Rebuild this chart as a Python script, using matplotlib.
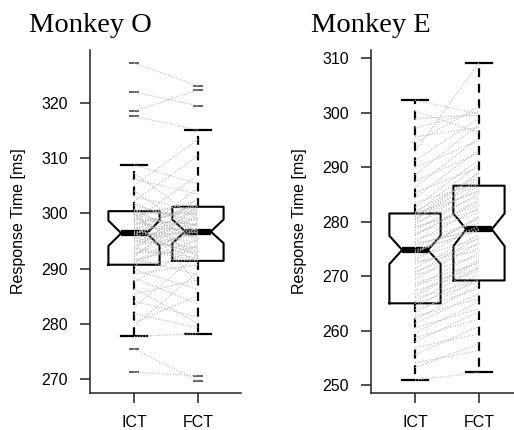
import matplotlib.pyplot as plt

plt.rcParams['font.family'] = ['Liberation Sans', 'DejaVu Sans']

groups = ['ICT', 'FCT']

# Monkey O: paired response times (ms)
o_ict = [271.2, 275.4, 277.7, 279.6, 280.2, 281.8, 283.0, 284.1, 285.3, 286.4,
         287.5, 288.3, 289.0, 289.8, 290.4, 290.9, 291.3, 291.8, 292.4, 292.9,
         293.3, 293.8, 294.2, 294.6, 295.0, 295.4, 295.8, 296.1, 296.3, 296.5,
         296.8, 297.1, 297.4, 297.7, 298.0, 298.3, 298.6, 298.9, 299.2, 299.5,
         299.8, 300.1, 300.3, 300.5, 300.8, 301.4, 302.2, 303.0, 304.1, 305.0,
         306.2, 307.3, 308.8, 317.6, 318.5, 322.0, 327.2,
         291.0, 291.6, 292.1, 292.7, 293.5, 294.0, 294.9, 295.6, 296.2, 296.6,
         297.3, 297.9, 298.5, 299.1, 299.7, 300.2, 300.6, 301.8]
o_fct = [270.6, 269.7, 278.2, 289.4, 285.1, 279.3, 292.6, 281.2, 288.0, 280.1,
         294.3, 283.6, 290.7, 286.2, 297.5, 291.6, 295.2, 288.9, 299.4, 293.0,
         302.8, 291.9, 296.1, 300.3, 293.8, 298.2, 304.6, 296.6, 292.4, 299.1,
         294.7, 301.8, 297.0, 291.1, 300.9, 295.6, 306.9, 297.9, 293.5, 302.2,
         296.9, 299.8, 287.2, 301.0, 294.9, 298.6, 310.4, 300.4, 296.3, 313.4,
         303.5, 298.8, 305.3, 315.1, 322.4, 319.5, 323.1,
         298.3, 294.0, 301.4, 296.8, 291.5, 299.7, 297.2, 292.9, 300.6, 295.9,
         293.2, 301.5, 296.4, 298.0, 292.1, 300.0, 295.3, 297.6]

# Monkey O box summaries
o_med = [296.4, 296.7]
o_q1 = [290.7, 291.4]
o_q3 = [300.4, 301.2]
o_whislo = [277.7, 278.2]
o_whishi = [308.8, 315.1]
o_cilo = [294.1, 294.6]
o_cihi = [298.7, 298.9]
o_fliers = [[327.2, 322.0, 318.5, 317.6, 275.4, 271.2],
            [323.1, 322.4, 319.5, 270.6, 269.7]]

# Monkey E: paired response times (ms)
e_ict = [250.9, 253.2, 254.1, 255.6, 256.8, 257.9, 258.7, 259.6, 260.5, 261.3,
         262.0, 262.6, 263.2, 263.8, 264.4, 264.9, 265.3, 265.9, 266.6, 267.3,
         268.0, 268.7, 269.4, 270.1, 270.8, 271.5, 272.2, 272.9, 273.5, 274.0,
         274.5, 274.8, 275.2, 275.7, 276.3, 276.8, 277.4, 277.9, 278.4, 278.9,
         279.4, 279.8, 280.2, 280.6, 280.9, 281.2, 281.5, 281.8, 282.6, 283.5,
         284.4, 285.3, 286.3, 287.4, 288.6, 289.9, 291.2, 292.8, 294.5, 295.6,
         297.2, 298.9, 300.3, 302.3,
         266.2, 268.4, 270.5, 272.6, 274.3, 276.0, 277.6, 279.1, 280.4, 281.4]
e_fct = [252.3, 257.6, 256.3, 260.8, 259.4, 263.5, 262.1, 265.2, 264.0, 266.8,
         268.3, 265.9, 269.5, 267.7, 270.4, 268.9, 271.6, 269.2, 273.0, 270.9,
         274.3, 272.4, 276.1, 273.8, 275.2, 277.6, 275.9, 279.3, 276.8, 281.0,
         278.6, 278.2, 280.4, 278.9, 282.5, 279.7, 284.1, 281.6, 285.2, 283.0,
         286.6, 284.7, 287.9, 285.8, 289.1, 286.9, 290.5, 288.3, 291.4, 287.0,
         293.2, 290.0, 295.4, 292.6, 297.8, 294.9, 299.0, 309.2, 301.1, 297.3,
         300.2, 299.6, 296.4, 299.8,
         272.7, 271.3, 277.1, 274.6, 280.8, 278.4, 283.7, 282.1, 288.9, 285.5]

# Monkey E box summaries
e_med = [274.8, 278.6]
e_q1 = [265.0, 269.2]
e_q3 = [281.5, 286.6]
e_whislo = [250.9, 252.3]
e_whishi = [302.3, 309.2]
e_cilo = [272.2, 275.5]
e_cihi = [277.4, 281.5]
e_fliers = [[], []]


def box_stats(med, q1, q3, lo, hi, cilo, cihi, fliers):
    return [dict(label=groups[i], med=med[i], q1=q1[i], q3=q3[i],
                 whislo=lo[i], whishi=hi[i], cilo=cilo[i], cihi=cihi[i],
                 fliers=fliers[i]) for i in range(len(groups))]


def draw_panel(ax, ict, fct, stats, title, ylim, yticks):
    ax.bxp(stats, positions=[1, 2], widths=0.8, shownotches=True,
           boxprops=dict(color='black', lw=1.5),
           medianprops=dict(color='black', lw=4.5, solid_capstyle='butt'),
           whiskerprops=dict(color='black', lw=1.6, ls=(0, (4, 3))),
           capprops=dict(color='black', lw=1.6),
           flierprops=dict(marker='_', markersize=7, markeredgecolor='#555555',
                           markeredgewidth=1.3, linestyle='none'),
           zorder=2)
    # paired sessions on top of the boxes
    for a, b in zip(ict, fct):
        ax.plot([1, 2], [a, b], color='#b8b8b8', lw=0.8, ls=(0, (1, 1.5)),
                zorder=4)
    ax.set_xlim(0.3125, 2.672)
    ax.set_ylim(*ylim)
    ax.set_yticks(yticks)
    ax.set_xticks([1, 2], groups)
    ax.spines[['top', 'right']].set_visible(False)
    for s in ['left', 'bottom']:
        ax.spines[s].set_linewidth(1.1)
        ax.spines[s].set_color('#222222')
    ax.tick_params(length=7.2, width=1.1, color='#222222', labelsize=11.5,
                   pad=8.5)
    x0 = ax.get_position().x0
    fig.text(x0, (430 - 32) / 430, title, family='Liberation Serif',
             fontsize=20.5, ha='center', va='baseline')
    fig.text(x0 - 71 / 514, (430 - 221.5) / 430, 'Response Time [ms]',
             rotation=90, fontsize=11.5, ha='center', va='center')


fig = plt.figure(figsize=(5.14, 4.30), dpi=100)
ax1 = fig.add_axes([90 / 514, 37 / 430, 151 / 514, 343 / 430])
ax2 = fig.add_axes([371 / 514, 37 / 430, 151 / 514, 343 / 430])

draw_panel(ax1, o_ict, o_fct,
           box_stats(o_med, o_q1, o_q3, o_whislo, o_whishi, o_cilo, o_cihi, o_fliers),
           'Monkey O', (267.46, 329.6), [270, 280, 290, 300, 310, 320])
draw_panel(ax2, e_ict, e_fct,
           box_stats(e_med, e_q1, e_q3, e_whislo, e_whishi, e_cilo, e_cihi, e_fliers),
           'Monkey E', (248.53, 311.52), [250, 260, 270, 280, 290, 300, 310])

fig.savefig('out.png', dpi=100)
